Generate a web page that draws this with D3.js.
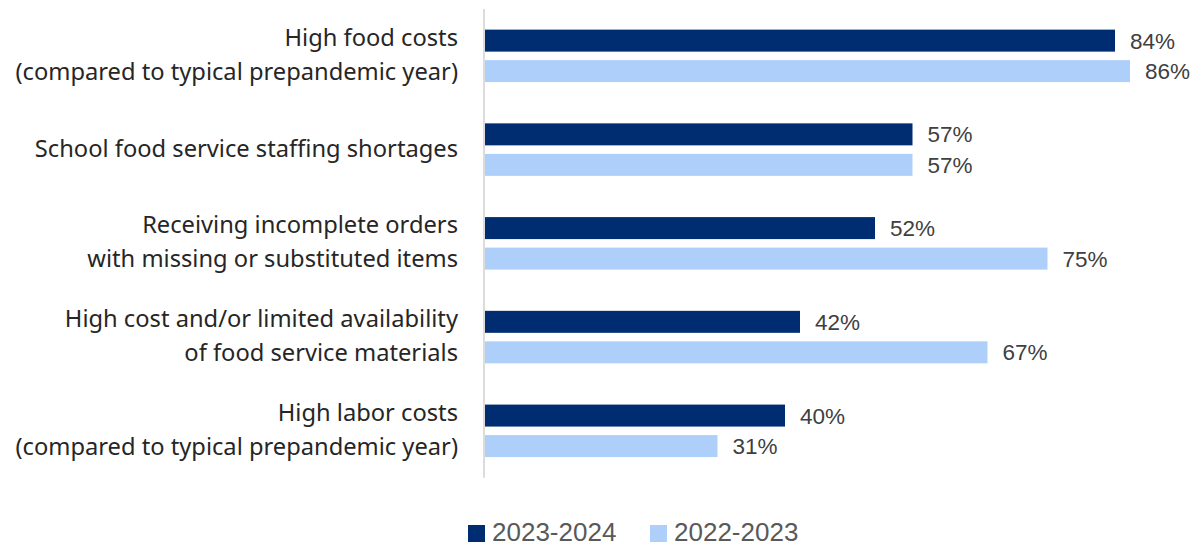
<!DOCTYPE html>
<html>
<head>
<meta charset="utf-8">
<script src="https://cdn.jsdelivr.net/npm/d3@7/dist/d3.min.js"></script>
<style>
  html, body { margin: 0; padding: 0; background: #fff; }
  svg { display: block; }
</style>
</head>
<body>
<svg id="chart" width="1201" height="550"></svg>
<script>
// Challenges reported by school food authorities, by school year
const categories = [
  ["High food costs", "(compared to typical prepandemic year)"],
  ["School food service staffing shortages"],
  ["Receiving incomplete orders", "with missing or substituted items"],
  ["High cost and/or limited availability", "of food service materials"],
  ["High labor costs", "(compared to typical prepandemic year)"]
];
const seriesNames = ["2023-2024", "2022-2023"];
const values2324 = [0.84, 0.57, 0.52, 0.42, 0.40];
const values2223 = [0.86, 0.57, 0.75, 0.67, 0.31];
const seriesColors = ["#002D72", "#AFCFFB"];

const svg = d3.select("#chart");
const labelFont = "'Noto Sans', sans-serif";
const valueFont = "'Liberation Sans', Arial, sans-serif";

const x0 = 485;
const x = d3.scaleLinear().domain([0, 1]).range([x0, x0 + 750]);

const keys = categories.map((c, i) => i);
const y = d3.scaleBand().domain(keys).range([9, 477.7]).paddingInner(0).paddingOuter(0);
const groupSpan = 52.5;
const ySeries = d3.scaleBand().domain([0, 1])
  .range([y.bandwidth() / 2 - groupSpan / 2, y.bandwidth() / 2 + groupSpan / 2])
  .paddingInner(0.279).paddingOuter(0);

const rows = keys.map(i => ({ i, vals: [values2324[i], values2223[i]] }));

// bars
const groups = svg.append("g").selectAll("g").data(rows).join("g")
  .attr("transform", d => `translate(0,${y(d.i)})`);

groups.selectAll("rect").data(d => d.vals.map((v, s) => ({ v, s }))).join("rect")
  .attr("x", x(0))
  .attr("y", d => ySeries(d.s))
  .attr("width", d => x(d.v) - x(0))
  .attr("height", ySeries.bandwidth())
  .attr("fill", d => seriesColors[d.s]);

// value labels
groups.selectAll("text.val").data(d => d.vals.map((v, s) => ({ v, s }))).join("text")
  .attr("class", "val")
  .attr("x", d => x(d.v) + 15)
  .attr("y", d => ySeries(d.s) + ySeries.bandwidth() / 2 + 8)
  .attr("font-family", valueFont)
  .attr("font-size", 22.5)
  .attr("fill", "#404040")
  .text(d => d3.format(".0%")(d.v));

// vertical axis line
svg.append("line")
  .attr("x1", x(0) - 1).attr("x2", x(0) - 1)
  .attr("y1", y.range()[0]).attr("y2", y.range()[1])
  .attr("stroke", "#d0d0d0").attr("stroke-width", 1.5);

// category labels
const lineGap = 34;
const catLabels = svg.append("g").selectAll("text").data(rows).join("text")
  .attr("text-anchor", "end")
  .attr("font-family", labelFont)
  .attr("font-size", 23.7)
  .attr("fill", "#262626")
  .attr("x", 458)
  .attr("y", d => y(d.i) + y.bandwidth() / 2 + 7);

catLabels.each(function(d) {
  const lines = categories[d.i];
  const t = d3.select(this);
  lines.forEach((ln, k) => {
    t.append("tspan")
      .attr("x", 458)
      .attr("dy", k === 0 ? -(lines.length - 1) * lineGap / 2 : lineGap)
      .text(ln);
  });
});

// legend
const legend = svg.append("g");
const legendX = [468, 650];
seriesNames.forEach((name, s) => {
  legend.append("rect")
    .attr("x", legendX[s]).attr("y", 525)
    .attr("width", 17).attr("height", 17)
    .attr("fill", seriesColors[s]);
  legend.append("text")
    .attr("x", legendX[s] + 24).attr("y", 541)
    .attr("font-family", valueFont)
    .attr("font-size", 26)
    .attr("fill", "#595959")
    .text(name);
});
</script>
</body>
</html>
